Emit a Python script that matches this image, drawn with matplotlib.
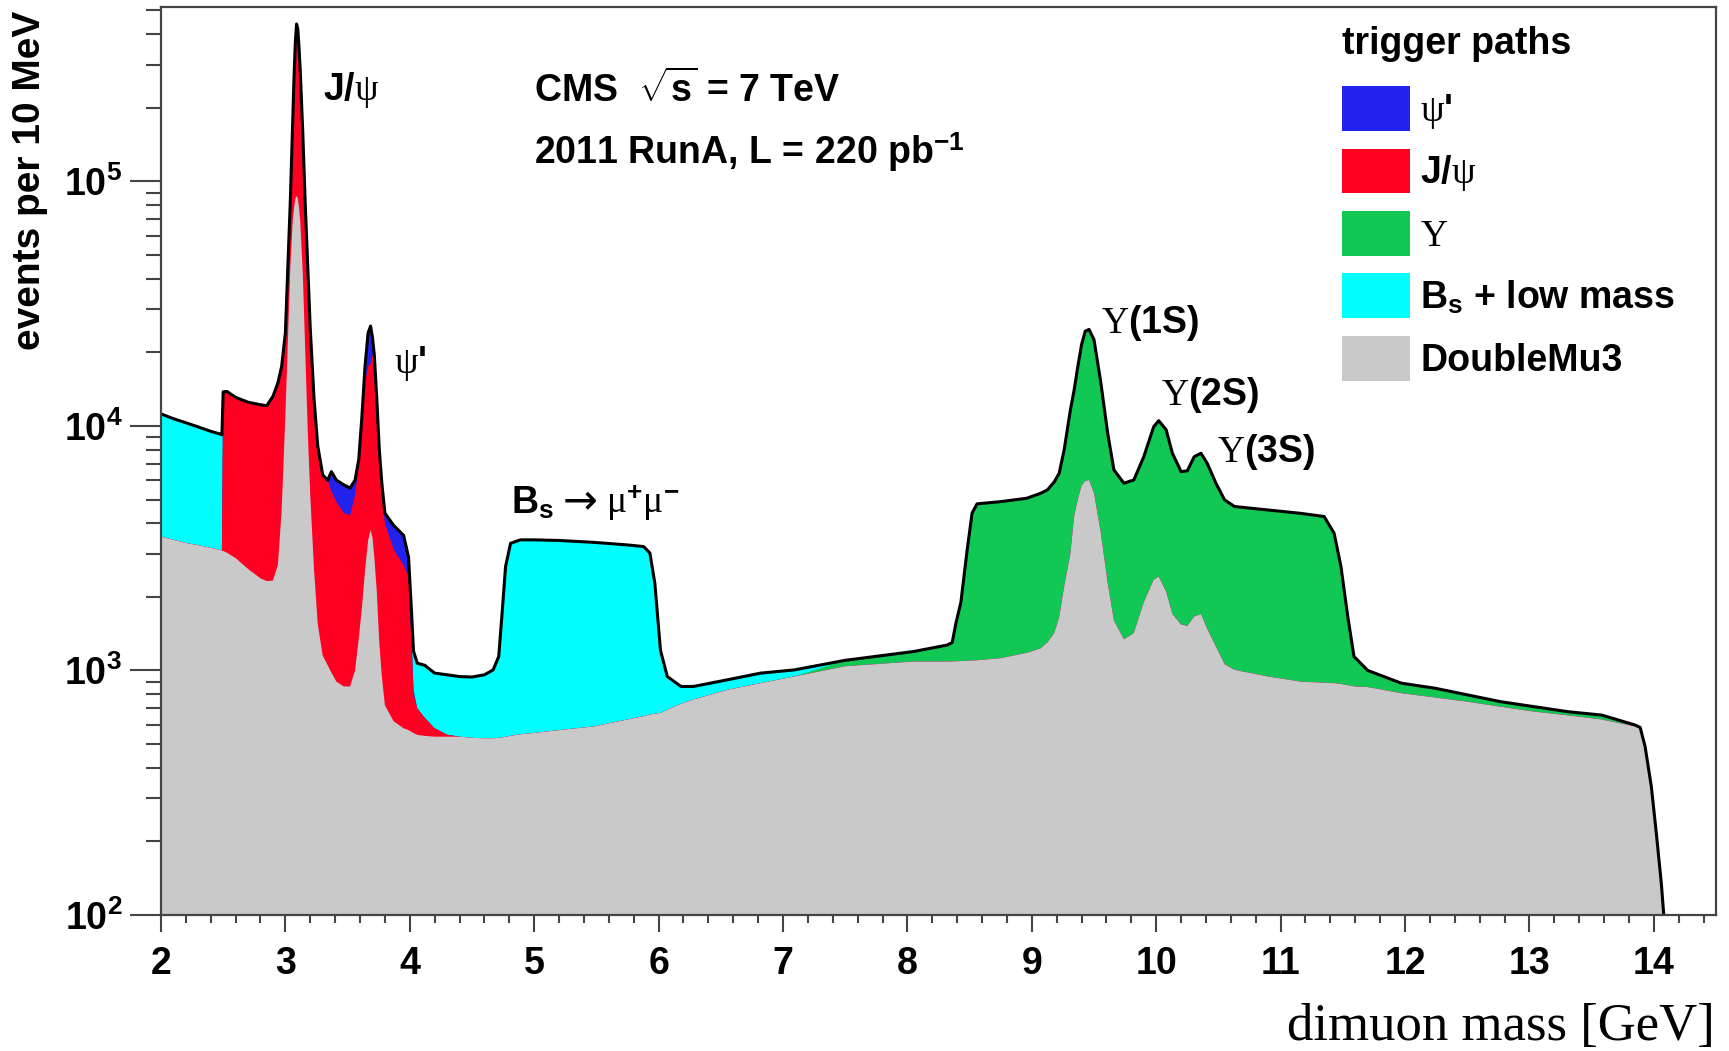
import numpy as np
import matplotlib
matplotlib.use("Agg")
import matplotlib.pyplot as plt
from matplotlib.patches import Patch
from matplotlib.ticker import FixedLocator, MultipleLocator, LogLocator, FuncFormatter, NullFormatter

plt.rcParams["font.family"] = ["Liberation Sans", "DejaVu Sans"]
plt.rcParams["font.weight"] = "bold"
plt.rcParams["mathtext.fontset"] = "custom"
plt.rcParams["mathtext.rm"] = "Liberation Serif:weight=normal"
plt.rcParams["mathtext.it"] = "Liberation Serif:style=italic:weight=normal"
plt.rcParams["mathtext.bf"] = "Liberation Sans:weight=bold"

# dimuon mass points [GeV]
mass = [
    2.00, 2.10, 2.20, 2.30, 2.40, 2.48, 2.49, 2.50, 2.53, 2.60,
    2.70, 2.80, 2.85, 2.90, 2.94, 2.97, 3.00, 3.02, 3.04, 3.06,
    3.07, 3.08, 3.09, 3.10, 3.11, 3.12, 3.14, 3.16, 3.18, 3.20,
    3.23, 3.26, 3.30, 3.34, 3.37, 3.41, 3.47, 3.52, 3.56, 3.59,
    3.615, 3.64, 3.665, 3.685, 3.70, 3.715, 3.735, 3.755, 3.775, 3.80,
    3.87, 3.95, 3.99, 4.015, 4.03, 4.06, 4.12, 4.20, 4.30, 4.40,
    4.50, 4.60, 4.67, 4.715, 4.74, 4.77, 4.81, 4.89, 5.00, 5.20,
    5.48, 5.75, 5.88, 5.93, 5.97, 6.015, 6.07, 6.18, 6.28, 6.55,
    6.82, 7.09, 7.50, 8.05, 8.32, 8.36, 8.39, 8.43, 8.48, 8.52,
    8.56, 8.75, 8.96, 9.07, 9.125, 9.18, 9.22, 9.26, 9.31, 9.34,
    9.37, 9.40, 9.43, 9.46, 9.50, 9.555, 9.61, 9.66, 9.74, 9.82,
    9.90, 9.98, 10.02, 10.08, 10.13, 10.20, 10.25, 10.305, 10.36, 10.41,
    10.48, 10.55, 10.63, 10.90, 11.16, 11.35, 11.43, 11.485, 11.54, 11.59,
    11.70, 11.97, 12.24, 12.50, 12.77, 13.04, 13.31, 13.58, 13.85, 13.89,
    13.93, 13.98, 14.02, 14.06, 14.08, 14.10,
]

# events per 10 MeV for each trigger path
doublemu3 = [
    3520, 3420, 3320, 3250, 3170, 3100, 3090, 3080, 3030, 2880,
    2600, 2380, 2320, 2330, 2700, 4500, 11000, 22000, 45000, 70000,
    78000, 85000, 87000, 85000, 78000, 68000, 42000, 20000, 9500, 5200,
    2600, 1550, 1150, 1050, 980, 900, 860, 860, 1000, 1350,
    1800, 2550, 3400, 3750, 3500, 2900, 2100, 1300, 950, 720,
    620, 580, 570, 560, 555, 545, 540, 536, 536, 536,
    530, 528, 528, 530, 532, 535, 540, 548, 555, 570,
    590, 630, 650, 660, 665, 670, 690, 730, 760, 832,
    887, 944, 1040, 1087, 1087, 1088, 1090, 1092, 1095, 1098,
    1100, 1122, 1180, 1230, 1300, 1420, 1650, 2200, 3000, 4260,
    5000, 5700, 5950, 6010, 5310, 3640, 2270, 1600, 1340, 1420,
    1900, 2350, 2420, 2100, 1700, 1540, 1520, 1660, 1700, 1480,
    1250, 1060, 1005, 944, 900, 890, 887, 880, 870, 860,
    855, 807, 775, 745, 710, 678, 655, 630, 590, 580,
    485, 335, 216, 135, 100, 40,
]

jpsi = [
    0, 0, 0, 0, 0, 0, 0, 10700, 10800, 10200,
    9900, 9820, 9780, 10870, 12300, 13000, 13000, 23000, 39000, 115000,
    192000, 285000, 353000, 335000, 272000, 212000, 116000, 60000, 35500, 19800,
    10400, 6750, 5150, 4950, 4420, 4000, 3540, 3440, 4200, 5650,
    8600, 12450, 14100, 14250, 16000, 15900, 10200, 6200, 4350, 3280,
    2510, 2120, 1840, 700, 245, 155, 100, 44, 10, 0,
] + [0] * 86

psi2s = [0] * 34 + [
    1100, 1100, 1340, 1270, 800, 300,
    500, 2500, 6500, 7600, 3500, 700, 500, 500, 550, 400,
    790, 870, 500, 100, 30,
] + [0] * 91

upsilon = [0] * 82 + [
    60, 108, 183, 212, 470, 808, 2005, 3302,
    3700, 3778, 3880, 4070, 4170, 4480, 4750, 5780, 8600, 9740,
    12500, 15800, 18450, 18790, 17190, 11360, 7060, 5010, 4490, 4590,
    5580, 7580, 8080, 7540, 6030, 4960, 5030, 5820, 6030, 5550,
    4580, 3920, 3675, 3586, 3490, 3370, 2753, 1780, 790, 280,
    145, 80, 71, 50, 35, 33, 23, 27, 8, 5,
    3, 0, 0, 0, 0, 0,
]

bs_lowmass = [
    7680, 7280, 6980, 6650, 6330, 6150, 6100, 0, 0, 0,
] + [0] * 43 + [
    340, 370, 370, 410, 395, 414, 408,
    410, 432, 477, 610, 1128, 2125, 2770, 2872, 2865, 2830,
    2750, 2630, 2560, 2360, 1605, 540, 254, 130, 100, 83,
    88, 61,
] + [0] * 64

layers = [doublemu3, jpsi, psi2s, upsilon, bs_lowmass]
colors = ["#c9c9c9", "#ff0022", "#2222ee", "#10c853", "#00ffff"]
legend_labels = [r"$\mathrm{\psi}$'", r"J/$\mathrm{\psi}$", r"$\mathrm{\Upsilon}$",
                 r"B$_{\mathbf{s}}$ + low mass", "DoubleMu3"]
legend_order = [2, 1, 3, 4, 0]

stack = np.cumsum(np.array(layers, dtype=float), axis=0)

fig = plt.figure(figsize=(17.29, 10.51), dpi=100)
ax = fig.add_axes([0.0931, 0.1294, 0.8994, 0.8637])

# stacked histogram: draw cumulative sums from the top one down
for k in range(len(layers) - 1, -1, -1):
    ax.fill_between(mass, 1.0, stack[k], color=colors[k], lw=0)
ax.plot(mass, stack[-1], color="black", lw=2.2)

ax.set_yscale("log")
ax.set_xlim(2, 14.5)
ax.set_ylim(100, 5.15e5)

ax.xaxis.set_major_locator(MultipleLocator(1))
ax.xaxis.set_minor_locator(MultipleLocator(0.2))
ax.yaxis.set_major_locator(FixedLocator([1e2, 1e3, 1e4, 1e5]))
ax.yaxis.set_minor_locator(LogLocator(base=10, subs=np.arange(2, 10)))
ax.yaxis.set_major_formatter(FuncFormatter(lambda v, p: r"$\mathbf{10^{%d}}$" % round(np.log10(v))))
ax.yaxis.set_minor_formatter(NullFormatter())

frame = "#444444"
for s in ax.spines.values():
    s.set_color(frame)
    s.set_linewidth(1.6)
ax.tick_params(which="both", direction="out", color=frame, width=1.5, labelsize=27,
               top=False, right=False)
ax.tick_params(axis="y", which="major", length=22, pad=6)
ax.tick_params(axis="y", which="minor", length=11)
ax.tick_params(axis="x", which="major", length=12, pad=10)
ax.tick_params(axis="x", which="minor", length=6)

fig.text(30 / 1729, 1 - 11 / 1051, "events per 10 MeV", rotation=90,
         ha="center", va="top", fontsize=28)
fig.text(1715 / 1729, 0.010, "dimuon mass [GeV]", ha="right", va="baseline",
         fontsize=38, family="Liberation Serif", weight="normal")

ax.text(0.2397, 0.9085, r"CMS  $\sqrt{\mathbf{s}}$ = 7 TeV", transform=ax.transAxes,
        ha="left", va="center", fontsize=27)
ax.text(0.2397, 0.8404, r"2011 RunA, L = 220 pb$^{\mathbf{-1}}$", transform=ax.transAxes,
        ha="left", va="center", fontsize=27)

# peak labels
ax.text(3.306, 2.15e5, r"J/$\mathrm{\psi}$", fontsize=27, va="baseline")
ax.text(3.87, 1.65e4, r"$\mathrm{\psi}$'", fontsize=27, va="baseline")
ax.text(4.81, 4390, r"B$_{\mathbf{s}}$", fontsize=27, va="baseline")
ax.text(5.23, 4390, "→", family="DejaVu Sans", weight="normal", fontsize=30,
        va="baseline")
ax.text(5.58, 4390, r"$\mathrm{\mu}^{\mathbf{+}}\mathrm{\mu}^{\mathbf{-}}$",
        fontsize=27, va="baseline")
ax.text(9.56, 2.4e4, r"$\mathrm{\Upsilon}$(1S)", fontsize=27, va="baseline")
ax.text(10.04, 1.22e4, r"$\mathrm{\Upsilon}$(2S)", fontsize=27, va="baseline")
ax.text(10.49, 7140, r"$\mathrm{\Upsilon}$(3S)", fontsize=27, va="baseline")

# legend
ax.text(0.7595, 0.949, "trigger paths", transform=ax.transAxes, ha="left",
        va="baseline", fontsize=27)
handles = [Patch(facecolor=colors[i], edgecolor="none") for i in legend_order]
ax.legend(handles, legend_labels, loc="upper left",
          bbox_to_anchor=(0.7595, 0.913), frameon=False, fontsize=27,
          handlelength=1.81, handleheight=1.46,
          handletextpad=0.27, labelspacing=0.47, borderpad=0, borderaxespad=0)

fig.savefig("out.png", dpi=100)
